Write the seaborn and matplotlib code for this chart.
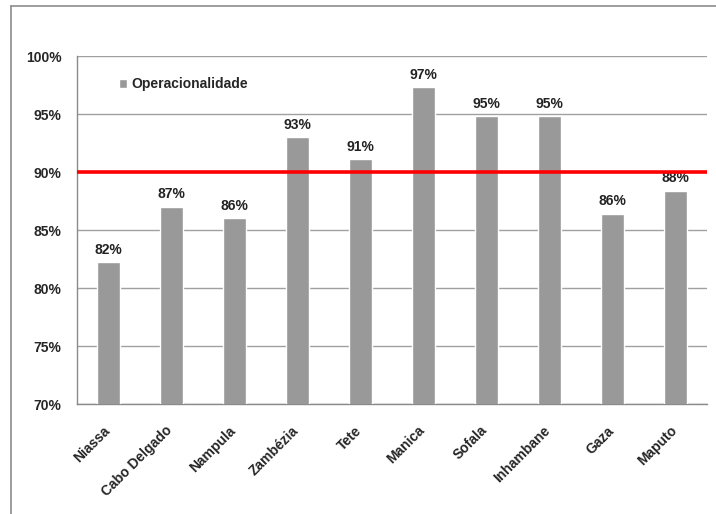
import matplotlib
matplotlib.use("Agg")
import matplotlib.pyplot as plt
from matplotlib.lines import Line2D
from matplotlib.transforms import ScaledTranslation
import seaborn as sns
import pandas as pd

# Operational rate by province (%)
provinces = ["Niassa", "Cabo Delgado", "Nampula", "Zambézia", "Tete",
             "Manica", "Sofala", "Inhambane", "Gaza", "Maputo"]
operational = [82.2, 87.0, 86.0, 93.0, 91.1, 97.3, 94.8, 94.8, 86.4, 88.4]
target = 90
y_ticks = [70, 75, 80, 85, 90, 95, 100]
series_name = "Operacionalidade"

sns.set_theme(style="white")
plt.rcParams["font.family"] = ["Liberation Sans Narrow", "Liberation Sans", "DejaVu Sans"]

df = pd.DataFrame({"Província": provinces, "valor": operational})

fig = plt.figure(figsize=(7.16, 5.14), dpi=100)
ax = fig.add_axes([77 / 716, 1 - 404 / 514, 630 / 716, 348 / 514])

sns.barplot(data=df, x="Província", y="valor", color="#999999", saturation=1,
            width=0.37, label=series_name, ax=ax, zorder=3)

ax.set_ylim(70, 100)
ax.set_xlim(-0.5, len(provinces) - 0.5)
ax.set_yticks(y_ticks)
ax.set_yticklabels([f"{t}%" for t in y_ticks], fontsize=10, fontweight="bold")
ax.yaxis.grid(True, color="#a0a0a0", linewidth=1, zorder=0)
ax.set_axisbelow(True)

# category separators as minor ticks on the x axis
ax.set_xticks([i - 0.5 for i in range(len(provinces) + 1)], minor=True)
ax.tick_params(axis="x", which="minor", length=4, color="#8a8a8a", width=1, direction="out")
ax.tick_params(axis="x", which="major", length=0, pad=14)
ax.tick_params(axis="y", length=4, color="#8a8a8a", width=1, direction="out", pad=7)
ax.set_xticks(range(len(provinces)))
ax.set_xticklabels(provinces, rotation=45, ha="right", rotation_mode="anchor",
                   fontsize=10, fontweight="bold")
shift = ScaledTranslation(-6 / 100, 0, fig.dpi_scale_trans)
for lbl in ax.get_xticklabels():
    lbl.set_transform(lbl.get_transform() + shift)
ax.set_xlabel("")
ax.set_ylabel("")

for side in ("top", "right"):
    ax.spines[side].set_visible(False)
for side in ("left", "bottom"):
    ax.spines[side].set_color("#8a8a8a")
    ax.spines[side].set_linewidth(1)

# target line
ax.axhline(target, color="#ff0000", linewidth=2.6, zorder=4)

# value labels
ax.bar_label(ax.containers[0], labels=[f"{v:.0f}%" for v in operational],
             padding=4, fontsize=10, fontweight="bold", color="#222222")

leg = ax.legend(loc="upper left", bbox_to_anchor=(0.047, 0.975), frameon=False,
                handlelength=0.6, handleheight=0.6, handletextpad=0.3,
                prop={"weight": "bold", "size": 10})

# outer frame on the left and top
fig.add_artist(Line2D([11 / 716, 11 / 716], [0, 1 - 6 / 514], transform=fig.transFigure,
                      color="#8c8c8c", linewidth=1.2))
fig.add_artist(Line2D([11 / 716, 1], [1 - 6 / 514, 1 - 6 / 514], transform=fig.transFigure,
                      color="#8c8c8c", linewidth=1.2))

fig.savefig("out.png", dpi=100)
